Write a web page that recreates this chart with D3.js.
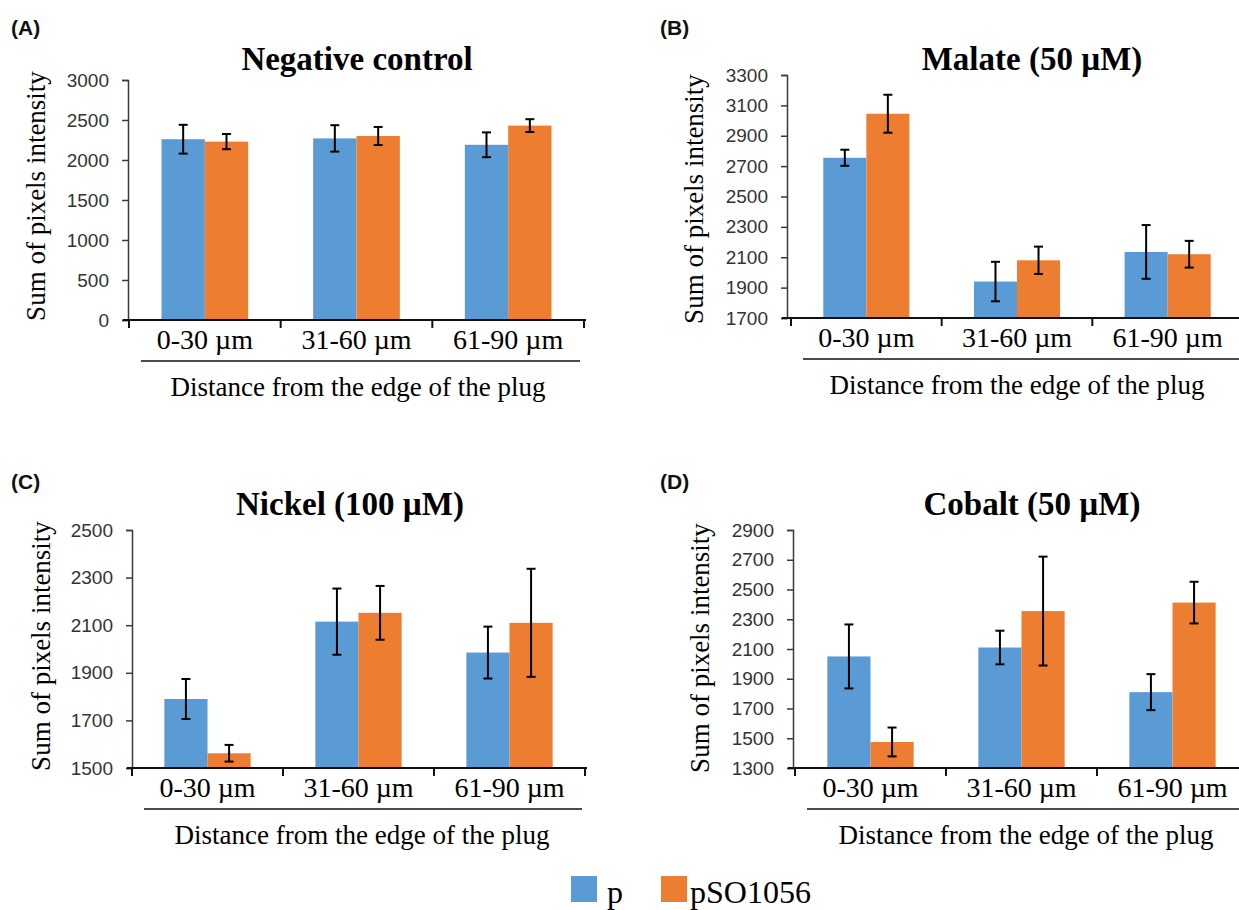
<!DOCTYPE html>
<html>
<head>
<meta charset="utf-8">
<script src="https://cdn.jsdelivr.net/npm/d3@7"></script>
<style>
  html, body { margin: 0; padding: 0; background: #fff; }
  svg { display: block; }
</style>
</head>
<body>
<svg id="chart" width="1239" height="910"></svg>
<script>
// ---------------- DATA ----------------
const categories = ["0-30 µm", "31-60 µm", "61-90 µm"];
const seriesNames = ["p", "pSO1056"];
const seriesColors = ["#5B9BD5", "#ED7D31"];
const panelLabels = ["(A)", "(B)", "(C)", "(D)"];
const panelTitles = ["Negative control", "Malate (50 µM)", "Nickel (100 µM)", "Cobalt (50 µM)"];
const yAxisTitle = "Sum of pixels intensity";
const xAxisTitle = "Distance from the edge of the plug";

// Negative control
const negP = [2260, 2270, 2190];
const negPErr = [180, 165, 155];
const negPSO = [2230, 2300, 2430];
const negPSOErr = [95, 113, 80];
const negTicks = [0, 500, 1000, 1500, 2000, 2500, 3000];

// Malate (50 µM)
const malP = [2755, 1940, 2135];
const malPErr = [53, 130, 177];
const malPSO = [3045, 2080, 2120];
const malPSOErr = [125, 90, 88];
const malTicks = [1700, 1900, 2100, 2300, 2500, 2700, 2900, 3100, 3300];

// Nickel (100 µM)
const niP = [1790, 2115, 1985];
const niPErr = [84, 139, 109];
const niPSO = [1562, 2152, 2110];
const niPSOErr = [35, 113, 227];
const niTicks = [1500, 1700, 1900, 2100, 2300, 2500];

// Cobalt (50 µM)
const coP = [2050, 2110, 1810];
const coPErr = [215, 113, 121];
const coPSO = [1475, 2355, 2412];
const coPSOErr = [97, 366, 140];
const coTicks = [1300, 1500, 1700, 1900, 2100, 2300, 2500, 2700, 2900];

const panelData = [
  { values: [negP, negPSO], errors: [negPErr, negPSOErr], ticks: negTicks },
  { values: [malP, malPSO], errors: [malPErr, malPSOErr], ticks: malTicks },
  { values: [niP, niPSO], errors: [niPErr, niPSOErr], ticks: niTicks },
  { values: [coP, coPSO], errors: [coPErr, coPSOErr], ticks: coTicks }
];

// ---------------- LAYOUT ----------------
const layouts = [
  { ax: 128, x0: 129, x1: 584, yTop: 80, yBot: 320, tagX: 11, tagY: 35, titleX: 357, titleY: 70, ylabX: 45, ylabY: 196, xlabX: 358, lineX1: 580 },
  { ax: 787, x0: 791, x1: 1243, yTop: 75, yBot: 318, tagX: 660, tagY: 35, titleX: 1032, titleY: 70, ylabX: 703, ylabY: 199, xlabX: 1017, lineX1: 1239 },
  { ax: 132, x0: 132, x1: 585, yTop: 530, yBot: 768, tagX: 11, tagY: 489, titleX: 350, titleY: 515, ylabX: 50, ylabY: 646, xlabX: 362, lineX1: 582 },
  { ax: 793, x0: 795, x1: 1248, yTop: 530, yBot: 768, tagX: 660, tagY: 489, titleX: 1032, titleY: 515, ylabX: 709, ylabY: 648, xlabX: 1026, lineX1: 1239 }
];

const serif = "'Liberation Serif', 'Times New Roman', serif";
const sans = "'Liberation Sans', Arial, sans-serif";

const svg = d3.select("#chart");

panelData.forEach((pd, i) => {
  const L = layouts[i];
  const g = svg.append("g");

  const y = d3.scaleLinear()
    .domain([pd.ticks[0], pd.ticks[pd.ticks.length - 1]])
    .range([L.yBot, L.yTop]);

  const x = d3.scaleBand().domain(categories).range([L.x0, L.x1]).paddingInner(0).paddingOuter(0);
  const xs = d3.scaleBand().domain(seriesNames).range([0, x.bandwidth()]).paddingInner(0).paddingOuter(0.75);

  // panel tag
  g.append("text").attr("x", L.tagX).attr("y", L.tagY)
    .attr("font-family", sans).attr("font-weight", "bold").attr("font-size", 21)
    .attr("fill", "#111").text(panelLabels[i]);

  // title
  g.append("text").attr("x", L.titleX).attr("y", L.titleY)
    .attr("text-anchor", "middle")
    .attr("font-family", serif).attr("font-weight", "bold").attr("font-size", 33)
    .attr("fill", "#000").text(panelTitles[i]);

  // y axis
  const yAxis = d3.axisLeft(y).tickValues(pd.ticks).tickSize(6).tickPadding(13).tickFormat(d3.format("d"));
  const ya = g.append("g").attr("transform", `translate(${L.ax},0)`).call(yAxis);
  ya.select(".domain").attr("stroke", "#3a3a3a").attr("stroke-width", 1.5);
  ya.selectAll(".tick line").attr("stroke", "#3a3a3a").attr("stroke-width", 1.5);
  ya.selectAll(".tick text").attr("font-family", sans).attr("font-size", 19).attr("fill", "#333");

  // bars
  pd.values.forEach((vals, s) => {
    g.selectAll(null).data(categories).enter().append("rect")
      .attr("x", c => x(c) + xs(seriesNames[s]))
      .attr("y", (c, k) => y(vals[k]))
      .attr("width", xs.bandwidth())
      .attr("height", (c, k) => L.yBot - y(vals[k]))
      .attr("fill", seriesColors[s]);
  });

  // x axis line + ticks
  g.append("line").attr("x1", L.ax - 5).attr("x2", L.x1 + 2).attr("y1", L.yBot).attr("y2", L.yBot)
    .attr("stroke", "#111").attr("stroke-width", 2);
  const bounds = categories.map(c => x(c)).concat([L.x1]);
  g.selectAll(null).data(bounds).enter().append("line")
    .attr("x1", d => d).attr("x2", d => d)
    .attr("y1", L.yBot).attr("y2", L.yBot + 8)
    .attr("stroke", "#111").attr("stroke-width", 2);

  // error bars
  pd.values.forEach((vals, s) => {
    const errs = pd.errors[s];
    const cx = c => x(c) + xs(seriesNames[s]) + xs.bandwidth() / 2;
    const eg = g.append("g").attr("stroke", "#000").attr("stroke-width", 2);
    eg.selectAll(null).data(categories).enter().append("line")
      .attr("x1", cx).attr("x2", cx)
      .attr("y1", (c, k) => y(vals[k] + errs[k]))
      .attr("y2", (c, k) => y(vals[k] - errs[k]));
    [1, -1].forEach(sign => {
      eg.selectAll(null).data(categories).enter().append("line")
        .attr("x1", c => cx(c) - 4.5).attr("x2", c => cx(c) + 4.5)
        .attr("y1", (c, k) => y(vals[k] + sign * errs[k]))
        .attr("y2", (c, k) => y(vals[k] + sign * errs[k]));
    });
  });

  // category labels
  g.selectAll(null).data(categories).enter().append("text")
    .attr("x", c => x(c) + x.bandwidth() / 2)
    .attr("y", L.yBot + 29)
    .attr("text-anchor", "middle")
    .attr("font-family", serif).attr("font-size", 28).attr("fill", "#000")
    .text(c => c);

  // group line
  g.append("line").attr("x1", L.x0 + 12).attr("x2", L.lineX1)
    .attr("y1", L.yBot + 41).attr("y2", L.yBot + 41)
    .attr("stroke", "#111").attr("stroke-width", 1.5);

  // x title
  g.append("text").attr("x", L.xlabX).attr("y", L.yBot + 76)
    .attr("text-anchor", "middle")
    .attr("font-family", serif).attr("font-size", 27).attr("fill", "#000")
    .text(xAxisTitle);

  // y title
  g.append("text")
    .attr("transform", `translate(${L.ylabX},${L.ylabY}) rotate(-90)`)
    .attr("text-anchor", "middle")
    .attr("font-family", serif).attr("font-size", 27).attr("fill", "#000")
    .text(yAxisTitle);
});

// legend
const legendX = [571, 661];
const legendTextDx = [36, 29];
const legend = svg.append("g");
seriesNames.forEach((n, s) => {
  legend.append("rect").attr("x", legendX[s]).attr("y", 876).attr("width", 26).attr("height", 26)
    .attr("fill", seriesColors[s]);
  legend.append("text").attr("x", legendX[s] + legendTextDx[s]).attr("y", 903)
    .attr("font-family", serif).attr("font-size", 32).attr("fill", "#000").text(n);
});
</script>
</body>
</html>
